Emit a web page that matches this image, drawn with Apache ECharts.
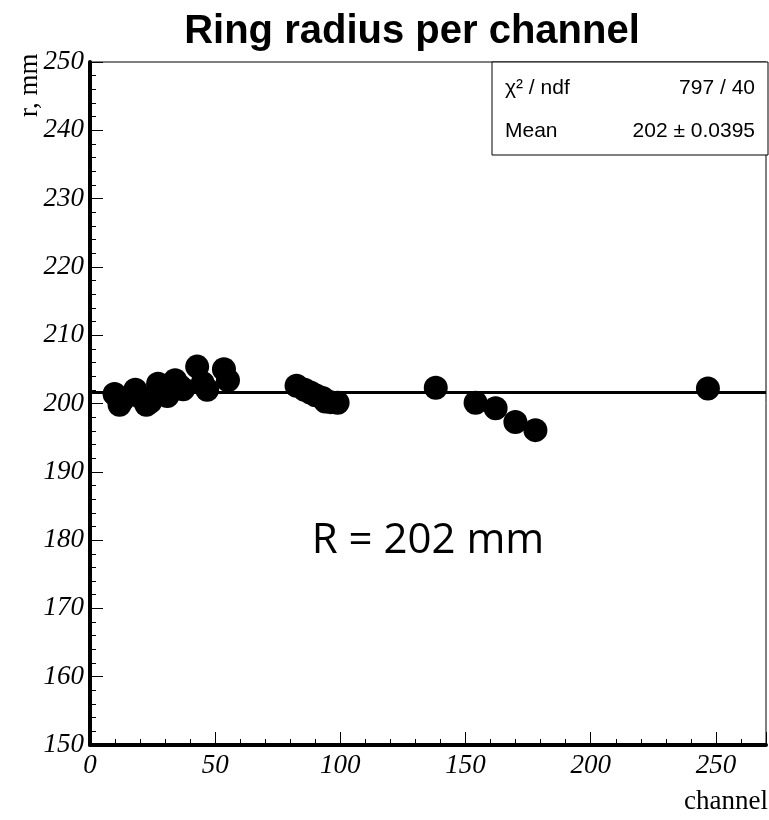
<!DOCTYPE html>
<html><head><meta charset="utf-8">
<script src="https://cdn.jsdelivr.net/npm/echarts@6/dist/echarts.min.js"></script>
<style>html,body{margin:0;padding:0;background:#fff}#c{width:769px;height:820px}</style>
</head><body><div id="c"></div>
<script>
const channels = [9.8, 11.8, 13, 18.1, 20, 22.5, 24, 27.2, 29, 30.9, 34.0, 36, 37.2, 42.8, 45, 46.8, 53.5, 55.1,
                  82.5, 85.7, 88, 90.1, 92.9, 94, 96.1, 98.9,
                  138.1, 154, 162, 169.9, 177.9, 246.8];
const radii = [201.4, 199.8, 200.5, 202.0, 201, 199.8, 200.2, 202.9, 202.2, 201.1, 203.4, 202.5, 202.1, 205.4, 203, 202.0, 205.0, 203.4,
               202.6, 202.0, 201.6, 201.2, 200.8, 200.3, 200.2, 200.1,
               202.3, 200.1, 199.3, 197.3, 196.1, 202.2];
const fitValue = 201.6;
const xTicks = [0, 50, 100, 150, 200, 250];
const yTicks = [150, 160, 170, 180, 190, 200, 210, 220, 230, 240, 250];
const titleText = 'Ring radius per channel';
const statsRows = [['χ² / ndf', '797 / 40'], ['Mean', '202 ± 0.0395']];
const annotation = 'R = 202 mm';

const chart = echarts.init(document.getElementById('c'));
const serifLabel = {fontFamily: 'Liberation Serif', fontStyle: 'italic', fontSize: 27, color: '#000'};
const gridL = 90, gridT = 62, gridR = 1, gridB = 75;
chart.setOption({
  animation: false,
  grid: {left: gridL, top: gridT, right: gridR, bottom: gridB, show: true, borderColor: '#000', borderWidth: 1, backgroundColor: 'transparent'},
  xAxis: [
    {type: 'value', min: 0, max: 270, interval: 50,
     axisLine: {show: true, onZero: false, lineStyle: {color: '#000', width: 4}},
     axisTick: {show: true, inside: true, length: 13, lineStyle: {color: '#000', width: 1}},
     splitLine: {show: false},
     axisLabel: Object.assign({margin: 7, formatter: v => xTicks.includes(v) ? String(v) : ''}, serifLabel)},
    {type: 'value', min: 0, max: 270, interval: 10, position: 'bottom',
     axisLine: {show: false}, splitLine: {show: false}, axisLabel: {show: false},
     axisTick: {show: true, inside: true, length: 6, lineStyle: {color: '#000', width: 1}}}
  ],
  yAxis: [
    {type: 'value', min: 150, max: 250, interval: 10,
     axisLine: {show: true, onZero: false, lineStyle: {color: '#000', width: 4}},
     axisTick: {show: true, inside: true, length: 13, lineStyle: {color: '#000', width: 1}},
     splitLine: {show: false},
     axisLabel: Object.assign({margin: 6, formatter: v => yTicks.includes(v) ? String(v) : ''}, serifLabel)},
    {type: 'value', min: 150, max: 250, interval: 2, position: 'left',
     axisLine: {show: false}, splitLine: {show: false}, axisLabel: {show: false},
     axisTick: {show: true, inside: true, length: 6, lineStyle: {color: '#000', width: 1}}}
  ],
  series: [
    {type: 'line', data: [[0, fitValue], [270, fitValue]], symbol: 'none', silent: true,
     lineStyle: {color: '#000', width: 3}, z: 2},
    {type: 'scatter', data: channels.map((c, i) => [c, radii[i]]), symbol: 'circle', symbolSize: 24,
     itemStyle: {color: '#000', opacity: 1}, z: 3}
  ],
  graphic: [
    {type: 'text', x: 412, y: 32, z: 10,
     style: {text: titleText, font: 'bold 40px "Liberation Sans"', fill: '#000', textAlign: 'center', textVerticalAlign: 'middle'}},
    {type: 'text', x: 16, y: 117, rotation: Math.PI / 2, z: 10,
     style: {text: 'r, mm', font: '27px "Liberation Serif"', fill: '#000'}},
    {type: 'text', x: 768, y: 802, z: 10,
     style: {text: 'channel', font: '27px "Liberation Serif"', fill: '#000', textAlign: 'right', textVerticalAlign: 'middle'}},
    {type: 'rect', shape: {x: 492, y: 62, width: 276, height: 93}, z: 10,
     style: {fill: '#fff', stroke: '#000', lineWidth: 1}},
    {type: 'text', x: 505, y: 88, z: 11, style: {text: statsRows[0][0], font: '21px "Liberation Sans"', fill: '#000', textVerticalAlign: 'middle'}},
    {type: 'text', x: 755, y: 88, z: 11, style: {text: statsRows[0][1], font: '21px "Liberation Sans"', fill: '#000', textAlign: 'right', textVerticalAlign: 'middle'}},
    {type: 'text', x: 505, y: 131, z: 11, style: {text: statsRows[1][0], font: '21px "Liberation Sans"', fill: '#000', textVerticalAlign: 'middle'}},
    {type: 'text', x: 755, y: 131, z: 11, style: {text: statsRows[1][1], font: '21px "Liberation Sans"', fill: '#000', textAlign: 'right', textVerticalAlign: 'middle'}},
    {type: 'text', x: 428, y: 541, z: 11, style: {text: annotation, font: '42px "Open Sans"', fill: '#000', textAlign: 'center', textVerticalAlign: 'middle'}}
  ]
});
</script></body></html>
